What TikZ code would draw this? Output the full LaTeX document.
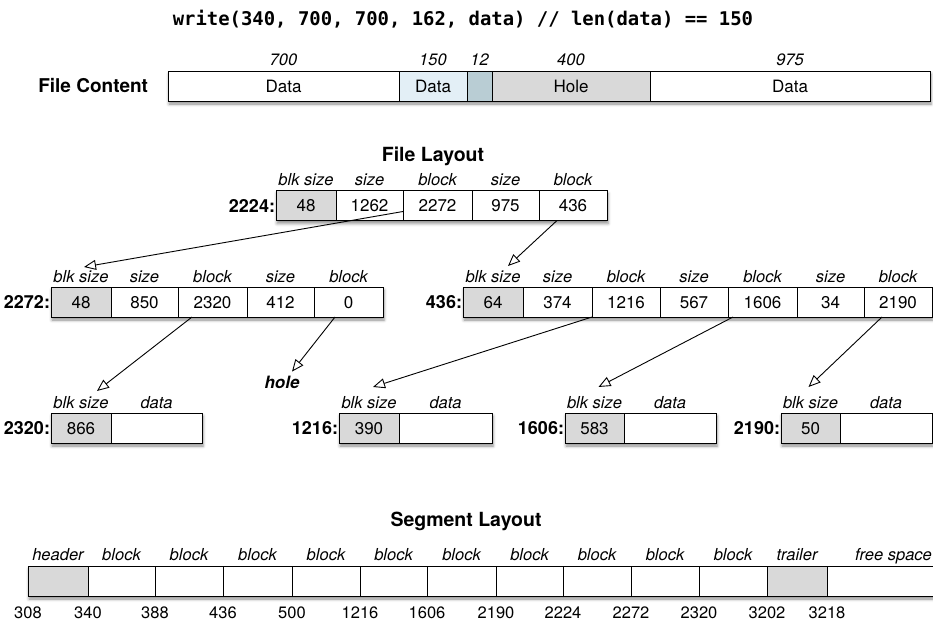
\documentclass[tikz,border=0pt]{standalone}
\usepackage{fontspec}
\setmainfont{TeX Gyre Heros}
\setmonofont{DejaVu Sans Mono}
\usetikzlibrary{arrows.meta,shadows.blur,calc}

\definecolor{cellgrey}{HTML}{D9D9D9}
\definecolor{newdata}{HTML}{E3EFF6}
\definecolor{newgap}{HTML}{B9CDD4}

% \bx{name}{left x}{right x}{centre y}{fill}{text}
\newcommand\bx[6]{%
  \node[cell, fill=#5, minimum width={(#3-#2)*1pt}] (#1) at ({(#2+#3)/2},#4) {#6};}

\begin{document}
\begin{tikzpicture}[x=1pt,y=-1pt,
  every node/.style={inner sep=0pt, outer sep=0pt},
  cell/.style={draw=black, line width=1pt, minimum height=30pt,
    font=\fontsize{17}{20}\selectfont, text height=12pt, text depth=0pt},
  hdr/.style={anchor=base, font=\fontsize{16.5}{19}\selectfont\itshape},
  addr/.style={anchor=east, font=\fontsize{18}{21}\selectfont\bfseries,
    text height=13pt, text depth=0pt},
  heading/.style={anchor=base, font=\fontsize{19.5}{23}\selectfont\bfseries},
  num/.style={anchor=base, font=\fontsize{16.5}{19}\selectfont},
  rowshadow/.style={fill=white, blur shadow={shadow xshift=1pt,
    shadow yshift=-3pt, shadow blur radius=3pt, shadow opacity=45}},
  arr/.style={line width=0.9pt, -{Triangle[open, length=12pt, width=10pt, line width=0.9pt]}},
]
\useasboundingbox (0,0) rectangle (933,622);
\clip (0,0) rectangle (933,622);

% call being illustrated
\node[anchor=base, font=\fontsize{18.9}{22}\selectfont\ttfamily\bfseries] (call) at (463,25)
  {write(340, 700, 700, 162, data) // len(data) == 150};

% ---------------- file content ----------------
\fill[rowshadow] (168,71) rectangle (930,101);
\bx{fc1}{168}{399}{86}{white}{Data}
\bx{fc2}{399}{467}{86}{newdata}{Data}
\bx{fc3}{467}{492}{86}{newgap}{}
\bx{fc4}{492}{650}{86}{cellgrey}{Hole}
\bx{fc5}{650}{930}{86}{white}{Data}
\foreach \c/\t in {fc1/700, fc2/150, fc3/12, fc4/400, fc5/975}
  \node[hdr] at ($(\c.north)+(0,-6)$) {\t};
\node[addr, font=\fontsize{19}{22}\selectfont\bfseries] (fclbl) at ($(fc1.west)+(-20,0)$) {File Content};

% ---------------- file layout ----------------
\node[heading] (fltitle) at (433,161) {File Layout};

% inode block 2224
\fill[rowshadow] (276,190.5) rectangle (607,220.5);
\bx{t0}{276}{336}{205.5}{cellgrey}{48}
\bx{t1}{336}{403}{205.5}{white}{1262}
\bx{t2}{403}{472}{205.5}{white}{2272}
\bx{t3}{472}{539}{205.5}{white}{975}
\bx{t4}{539}{607}{205.5}{white}{436}
\node[addr] at ($(t0.west)+(-1,0)$) {2224:};
\foreach \c/\t [count=\i from 0] in {t0/blk size, t1/size, t2/block, t3/size, t4/block}
  \node[hdr] (th\i) at ($(\c.north)+(0,-5)$) {\t};

% indirect block 2272
\fill[rowshadow] (51,287) rectangle (383,317);
\bx{a0}{51}{111}{302}{cellgrey}{48}
\bx{a1}{111}{178}{302}{white}{850}
\bx{a2}{178}{247}{302}{white}{2320}
\bx{a3}{247}{314}{302}{white}{412}
\bx{a4}{314}{383}{302}{white}{0}
\node[addr] at ($(a0.west)+(-1,0)$) {2272:};
\foreach \c/\t [count=\i from 0] in {a0/blk size, a1/size, a2/block, a3/size, a4/block}
  \node[hdr] (ah\i) at ($(\c.north)+(0,-5)$) {\t};

% indirect block 436
\fill[rowshadow] (463,287) rectangle (932,317);
\bx{b0}{463}{523}{302}{cellgrey}{64}
\bx{b1}{523}{592}{302}{white}{374}
\bx{b2}{592}{660}{302}{white}{1216}
\bx{b3}{660}{728}{302}{white}{567}
\bx{b4}{728}{797}{302}{white}{1606}
\bx{b5}{797}{864}{302}{white}{34}
\bx{b6}{864}{932}{302}{white}{2190}
\node[addr] at ($(b0.west)+(-1,0)$) {436:};
\foreach \c/\t [count=\i from 0] in {b0/blk size, b1/size, b2/block, b3/size, b4/block, b5/size, b6/block}
  \node[hdr] (bh\i) at ($(\c.north)+(0,-5)$) {\t};

% data blocks
\fill[rowshadow] (51,413) rectangle (202,443);
\bx{d1a}{51}{111}{428}{cellgrey}{866}
\bx{d1b}{111}{202}{428}{white}{}
\fill[rowshadow] (339,413) rectangle (492,443);
\bx{d2a}{339}{399}{428}{cellgrey}{390}
\bx{d2b}{399}{492}{428}{white}{}
\fill[rowshadow] (565,413) rectangle (716,443);
\bx{d3a}{565}{624}{428}{cellgrey}{583}
\bx{d3b}{624}{716}{428}{white}{}
\fill[rowshadow] (781,413) rectangle (932,443);
\bx{d4a}{781}{840}{428}{cellgrey}{50}
\bx{d4b}{840}{932}{428}{white}{}
\foreach \k/\t in {1/2320, 2/1216, 3/1606, 4/2190}{
  \node[addr] at ($(d\k a.west)+(-1,0)$) {\t:};
  \node[hdr] (dh\k) at ($(d\k a.north)+(0,-5)$) {blk size};
  \node[hdr] at ($(d\k b.north)+(0,-5)$) {data};
}

\node[anchor=base, font=\fontsize{17}{20}\selectfont\bfseries\itshape] (hole) at (282,388) {hole};

% block pointers
\draw[arr] ($(t2.south west)+(0,-9)$) -- ($(ah0.north)+(3,-3)$);
\draw[arr] ($(t4.south west)+(18,0)$) -- ($(bh0.north)+(15,-4)$);
\draw[arr] ($(a2.south west)+(14,0)$) -- ($(dh1.north)+(16,-5)$);
\draw[arr] ($(a4.south west)+(21,0)$) -- ($(hole.north)+(10,-4)$);
\draw[arr] (b2.south west) -- ($(dh2.north)+(4,-9)$);
\draw[arr] ($(b4.south west)+(5,0)$) -- ($(dh3.north)+(4,-9)$);
\draw[arr] ($(b6.south west)+(18,0)$) -- ($(dh4.north)+(-2,-9)$);

% ---------------- segment layout ----------------
\node[heading] (sltitle) at (466,526) {Segment Layout};
\fill[rowshadow] (28,566) rectangle (960,596);
\foreach \l/\r/\f/\t [count=\i from 0] in {
  28/88/cellgrey/header, 88/155/white/block, 155/223/white/block,
  223/292/white/block, 292/360/white/block, 360/427/white/block,
  427/496/white/block, 496/563/white/block, 563/631/white/block,
  631/699/white/block, 699/767/white/block, 767/827/cellgrey/trailer,
  827/960/white/free space}{
  \bx{s\i}{\l}{\r}{581}{\f}{}
  \node[hdr] at ($(s\i.north)+(0,-6)$) {\t};
}
\foreach \v [count=\i from 0] in {308,340,388,436,500,1216,1606,2190,2224,2272,2320,3202,3218}
  \node[num] at ($(s\i.south west)+(0,22)$) {\v};
\end{tikzpicture}
\end{document}
